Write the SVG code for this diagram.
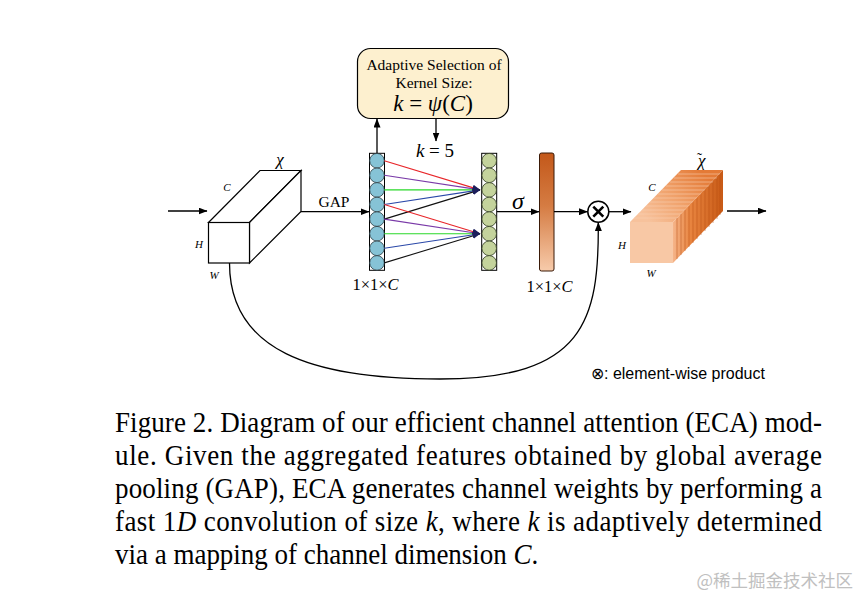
<svg xmlns="http://www.w3.org/2000/svg" width="860" height="606" viewBox="0 0 860 606">
<defs>
<style>
.serif{font-family:"Liberation Serif","Times New Roman",serif;fill:#000}
.sans{font-family:"Liberation Sans",Arial,sans-serif;fill:#000}
.it{font-style:italic}
.ln{fill:none;stroke:#000;stroke-width:1.3}
.cl{stroke-width:1.1;fill:none}
.bc{fill:#86c3d6;stroke:#2a3a40;stroke-width:0.8}
.gc{fill:#c4d39c;stroke:#2e3a20;stroke-width:0.8}
.col{fill:#fff;stroke:#000;stroke-width:1}
.cap{font-size:30px}
</style>
<marker id="ah" markerUnits="userSpaceOnUse" markerWidth="9" markerHeight="7" refX="8.5" refY="3.5" orient="auto">
<path d="M0,0 L9,3.5 L0,7 z" fill="#000"/>
</marker>
<marker id="sh" markerUnits="userSpaceOnUse" markerWidth="8" markerHeight="6" refX="7.5" refY="3" orient="auto">
<path d="M0,0 L8,3 L0,6 z" fill="#1c1f5c"/>
</marker>
<linearGradient id="bar" x1="0" y1="0" x2="0" y2="1">
<stop offset="0" stop-color="#c3581a"/>
<stop offset="0.45" stop-color="#d57c43"/>
<stop offset="1" stop-color="#f7cbab"/>
</linearGradient>
<linearGradient id="topg" gradientUnits="userSpaceOnUse" x1="650" y1="222" x2="700" y2="170">
<stop offset="0" stop-color="#f7c29c"/>
<stop offset="0.5" stop-color="#f0a16a"/>
<stop offset="1" stop-color="#e47a36"/>
</linearGradient>
<linearGradient id="rightg" gradientUnits="userSpaceOnUse" x1="673" y1="0" x2="723" y2="0">
<stop offset="0" stop-color="#f5b489"/>
<stop offset="0.35" stop-color="#e8843f"/>
<stop offset="1" stop-color="#c85a16"/>
</linearGradient>
</defs>
<rect width="860" height="606" fill="#fff"/>

<g id="input-cube">
<polygon points="208.5,222.5 260,170.5 301,170.5 249.5,222.5" fill="#fff" stroke="#000" stroke-width="1.2"/>
<polygon points="249.5,222.5 301,170.5 301,211.5 249.5,263" fill="#fff" stroke="#000" stroke-width="1.2"/>
<rect x="208.5" y="222.5" width="41" height="40.5" fill="#fff" stroke="#000" stroke-width="1.2"/>
<text class="serif it" x="280" y="165" font-size="17" text-anchor="middle">χ</text>
<text class="serif it" x="227" y="191" font-size="11" text-anchor="middle">C</text>
<text class="serif it" x="199" y="248" font-size="11" text-anchor="middle">H</text>
<text class="serif it" x="214" y="279" font-size="11" text-anchor="middle">W</text>
</g>

<g id="kernel-box">
<rect x="357.5" y="48.5" width="151" height="70" rx="13" fill="#fdf0cf" stroke="#000" stroke-width="1.2"/>
<text class="serif" x="434" y="70" font-size="15.5" text-anchor="middle">Adaptive Selection of</text>
<text class="serif" x="434" y="88" font-size="15.5" text-anchor="middle">Kernel Size:</text>
<text class="serif" x="433" y="111" font-size="23" text-anchor="middle"><tspan class="it">k</tspan> = <tspan class="it">ψ</tspan>(<tspan class="it">C</tspan>)</text>
</g>

<g id="gap-column">
<rect class="col" x="369.5" y="153.3" width="15" height="117"/>
<circle class="bc" cx="377" cy="160.7" r="7.3"/>
<circle class="bc" cx="377" cy="175.3" r="7.3"/>
<circle class="bc" cx="377" cy="189.9" r="7.3"/>
<circle class="bc" cx="377" cy="204.5" r="7.3"/>
<circle class="bc" cx="377" cy="219.1" r="7.3"/>
<circle class="bc" cx="377" cy="233.7" r="7.3"/>
<circle class="bc" cx="377" cy="248.3" r="7.3"/>
<circle class="bc" cx="377" cy="262.9" r="7.3"/>
<text class="serif" x="375.5" y="289.5" font-size="16.5" text-anchor="middle">1×1×<tspan class="it">C</tspan></text>
</g>

<g id="conv-column">
<rect class="col" x="481.7" y="153.3" width="15" height="117"/>
<circle class="gc" cx="489.2" cy="160.7" r="7.3"/>
<circle class="gc" cx="489.2" cy="175.3" r="7.3"/>
<circle class="gc" cx="489.2" cy="189.9" r="7.3"/>
<circle class="gc" cx="489.2" cy="204.5" r="7.3"/>
<circle class="gc" cx="489.2" cy="219.1" r="7.3"/>
<circle class="gc" cx="489.2" cy="233.7" r="7.3"/>
<circle class="gc" cx="489.2" cy="248.3" r="7.3"/>
<circle class="gc" cx="489.2" cy="262.9" r="7.3"/>
<text class="serif" x="435" y="157" font-size="19" text-anchor="middle"><tspan class="it">k</tspan> = 5</text>
</g>

<g id="weight-bar">
<rect x="539.5" y="153" width="14.5" height="118" rx="2" fill="url(#bar)" stroke="#3a1a08" stroke-width="1"/>
<text class="serif it" x="518" y="209" font-size="24" text-anchor="middle">σ</text>
<text class="serif" x="549.5" y="292" font-size="16.5" text-anchor="middle">1×1×<tspan class="it">C</tspan></text>
</g>

<g id="product">
<circle cx="598.3" cy="211.7" r="10.5" fill="#fff" stroke="#000" stroke-width="1.5"/>
<path d="M593.3,206.7 L603.3,216.7 M603.3,206.7 L593.3,216.7" stroke="#000" stroke-width="2.6" fill="none"/>
</g>

<g id="output-cube">
<polygon points="630,222 681,170 723,170 673,222" fill="url(#topg)"/>
<polygon points="673,222 723,170 723,211 673,263" fill="url(#rightg)"/>
<g stroke-width="0.8" fill="none">
<path d="M634,218 L677,218 M638,214 L681,214 M642,210 L685,210 M646,206 L689,206 M650,202 L693,202 M654,198 L697,198 M658,194 L701,194 M662,190 L705,190 M666,186 L709,186 M670,182 L713,182 M674,178 L717,178 M678,174 L720,174" stroke="#f9d2b4" stroke-opacity="0.7"/>
<path d="M677,218 L677,259 M681,214 L681,255 M685,210 L685,251 M689,206 L689,247 M693,202 L693,243 M697,198 L697,239 M701,194 L701,235 M705,190 L705,231 M709,186 L709,227 M713,182 L713,223 M717,178 L717,219 M720,174 L720,215" stroke="#b54e10" stroke-opacity="0.6"/>
</g>
<rect x="630" y="222" width="43" height="41" fill="#f8c8a5"/>
<text class="serif" x="697" y="166" font-size="17"><tspan class="it">χ</tspan><tspan dx="-8.5" dy="-3" font-size="15">˜</tspan></text>
<text class="serif it" x="652" y="191" font-size="11" text-anchor="middle">C</text>
<text class="serif it" x="622" y="249" font-size="11" text-anchor="middle">H</text>
<text class="serif it" x="651" y="277" font-size="11" text-anchor="middle">W</text>
</g>

<g id="connectors">
<line class="ln" x1="168" y1="211" x2="207" y2="211" marker-end="url(#ah)"/>
<line class="ln" x1="301" y1="211.7" x2="369" y2="211.7" marker-end="url(#ah)"/>
<text class="serif" x="334" y="206.5" font-size="15.5" text-anchor="middle">GAP</text>
<line class="ln" x1="377" y1="153" x2="377" y2="119" marker-end="url(#ah)"/>
<line class="ln" x1="436" y1="118.5" x2="436" y2="141" marker-end="url(#ah)"/>
<line class="ln" x1="497" y1="211.7" x2="539" y2="211.7" marker-end="url(#ah)"/>
<line class="ln" x1="554" y1="211.7" x2="587.5" y2="211.7" marker-end="url(#ah)"/>
<line class="ln" x1="609" y1="211.7" x2="631" y2="211.7" marker-end="url(#ah)"/>
<line class="ln" x1="727" y1="211" x2="766" y2="211" marker-end="url(#ah)"/>
<path class="ln" d="M229.5,263 C229.5,350 310,379 440,379 C585,379 599,320 598.3,222.5" marker-end="url(#ah)"/>
<g class="cl">
<line x1="384.3" y1="160.7" x2="480" y2="189.9" stroke="#e8262a" marker-end="url(#sh)"/>
<line x1="384.3" y1="175.3" x2="480" y2="189.9" stroke="#7a3aa8" marker-end="url(#sh)"/>
<line x1="384.3" y1="189.9" x2="480" y2="189.9" stroke="#28d828" marker-end="url(#sh)"/>
<line x1="384.3" y1="204.5" x2="480" y2="189.9" stroke="#2a48a8" marker-end="url(#sh)"/>
<line x1="384.3" y1="219.1" x2="480" y2="189.9" stroke="#111" marker-end="url(#sh)"/>
<line x1="384.3" y1="204.5" x2="480" y2="233.7" stroke="#e8262a" marker-end="url(#sh)"/>
<line x1="384.3" y1="219.1" x2="480" y2="233.7" stroke="#7a3aa8" marker-end="url(#sh)"/>
<line x1="384.3" y1="233.7" x2="480" y2="233.7" stroke="#28d828" marker-end="url(#sh)"/>
<line x1="384.3" y1="248.3" x2="480" y2="233.7" stroke="#2a48a8" marker-end="url(#sh)"/>
<line x1="384.3" y1="262.9" x2="480" y2="233.7" stroke="#111" marker-end="url(#sh)"/>
</g>
</g>

<text class="sans" x="591" y="379" font-size="16">⊗: element-wise product</text>

<g id="caption" transform="translate(115,0) scale(0.9,1)">
<text class="serif cap" x="0" y="432" textLength="785.5" lengthAdjust="spacing">Figure 2. Diagram of our efficient channel attention (ECA) mod-</text>
<text class="serif cap" x="0" y="465" textLength="785.5" lengthAdjust="spacing">ule.  Given the aggregated features obtained by global average</text>
<text class="serif cap" x="0" y="498" textLength="785.5" lengthAdjust="spacing">pooling (GAP), ECA generates channel weights by performing a</text>
<text class="serif cap" x="0" y="531" textLength="785.5" lengthAdjust="spacing">fast 1<tspan class="it">D</tspan> convolution of size <tspan class="it">k</tspan>, where <tspan class="it">k</tspan> is adaptively determined</text>
<text class="serif cap" x="0" y="564">via a mapping of channel dimension <tspan class="it">C</tspan>.</text>
</g>

<text x="853" y="587" font-size="17.5" text-anchor="end" fill="#c0c0c0" font-family="'Noto Sans CJK SC','Noto Sans',sans-serif">@稀土掘金技术社区</text>
</svg>
